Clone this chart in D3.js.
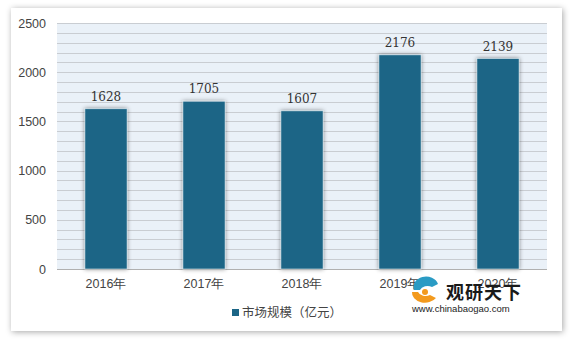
<!DOCTYPE html>
<html lang="zh">
<head>
<meta charset="UTF-8">
<script src="https://d3js.org/d3.v7.min.js"></script>
<style>
  body { margin: 0; background: #fff; }
  svg { display: block; }
  .tick text { font-family: "Liberation Sans", Arial, sans-serif; }
</style>
</head>
<body>
<svg></svg>
<script>
const width = 574, height = 340;

// data
const years = ["2016年", "2017年", "2018年", "2019年", "2020年"];
const values = [1628, 1705, 1607, 2176, 2139];
const yTicks = [0, 500, 1000, 1500, 2000, 2500];
const seriesName = "市场规模（亿元）";

const margin = { left: 57, right: 27, top: 23, bottom: 71 };
const plotW = width - margin.left - margin.right;
const plotH = height - margin.top - margin.bottom;

const svg = d3.select("svg").attr("width", width).attr("height", height);

const defs = svg.append("defs");
const cardShadow = defs.append("filter").attr("id", "cardShadow")
  .attr("x", "-5%").attr("y", "-5%").attr("width", "110%").attr("height", "110%");
cardShadow.append("feDropShadow").attr("dx", 1).attr("dy", 1).attr("stdDeviation", 3)
  .attr("flood-color", "#000").attr("flood-opacity", 0.35);
const barShadow = defs.append("filter").attr("id", "barShadow")
  .attr("x", "-30%").attr("y", "-10%").attr("width", "160%").attr("height", "120%");
barShadow.append("feDropShadow").attr("dx", 0).attr("dy", 0).attr("stdDeviation", 2)
  .attr("flood-color", "#000").attr("flood-opacity", 0.45);

// card
svg.append("rect")
  .attr("x", 11).attr("y", 8).attr("width", 551).attr("height", 323)
  .attr("fill", "#fff").attr("filter", "url(#cardShadow)");

const g = svg.append("g").attr("transform", `translate(${margin.left},${margin.top})`);

const x = d3.scaleBand().domain(years).range([0, plotW]).paddingInner(0.57).paddingOuter(0.285);
const y = d3.scaleLinear().domain([0, 2500]).range([plotH, 0]);

// plot background
g.append("rect").attr("width", plotW).attr("height", plotH).attr("fill", "#eaf1f8");

// grid lines every 100
g.append("g").selectAll("line")
  .data(d3.range(0, 2501, 100))
  .join("line")
  .attr("x1", 0).attr("x2", plotW)
  .attr("y1", d => Math.round(y(d)) + 0.5).attr("y2", d => Math.round(y(d)) + 0.5)
  .attr("stroke", d => d === 0 ? "#b0b0b0" : "#c9cdd2").attr("stroke-width", 1);

// bars
g.append("g").selectAll("rect")
  .data(values)
  .join("rect")
  .attr("x", (d, i) => x(years[i]))
  .attr("y", d => y(d))
  .attr("width", x.bandwidth())
  .attr("height", d => plotH - y(d))
  .attr("fill", "#1b6586")
  .attr("stroke", "#dfe9ef").attr("stroke-width", 0.6)
  .attr("filter", "url(#barShadow)");

// value labels
g.append("g").selectAll("text")
  .data(values)
  .join("text")
  .attr("x", (d, i) => x(years[i]) + x.bandwidth() / 2)
  .attr("y", d => y(d) - 8)
  .attr("text-anchor", "middle")
  .attr("font-family", "'DejaVu Serif', 'Liberation Serif', serif")
  .attr("font-size", 12)
  .attr("fill", "#333")
  .text(d => d);

// y axis
const yAxis = g.append("g")
  .call(d3.axisLeft(y).tickValues(yTicks).tickFormat(d3.format("d")).tickSize(0).tickPadding(11));
yAxis.select(".domain").remove();
yAxis.selectAll("text").attr("font-size", 12.5).attr("fill", "#444");

// x axis
const xAxis = g.append("g").attr("transform", `translate(0,${plotH})`)
  .call(d3.axisBottom(x).tickSize(0).tickPadding(10));
xAxis.select(".domain").remove();
xAxis.selectAll("text").attr("font-size", 12.5).attr("fill", "#444")
  .attr("font-family", "'Liberation Sans', 'Noto Sans CJK SC', sans-serif");

// legend
const lg = svg.append("g").attr("transform", "translate(232,313)");
lg.append("rect").attr("x", 0).attr("y", -4).attr("width", 7).attr("height", 7).attr("fill", "#1b6586");
lg.append("text").attr("x", 10).attr("y", 4)
  .attr("font-family", "'Noto Sans CJK SC', sans-serif").attr("font-size", 12.5).attr("fill", "#444")
  .text(seriesName);

// watermark
const wm = svg.append("g").attr("transform", "translate(412,278)");
wm.append("path").attr("d", "M2,12 A12,10 0 0 1 26,6 L20,9 A8,6 0 0 0 8,12 Z").attr("fill", "#2a9bc4");
wm.append("path").attr("d", "M0,14 A13,10 0 0 0 24,20 L18,17 A8,6 0 0 1 6,14 Z").attr("fill", "#f39a1e");
wm.append("circle").attr("cx", 13).attr("cy", 14).attr("r", 3).attr("fill", "#f39a1e");
wm.append("text").attr("x", 34).attr("y", 21)
  .attr("font-family", "'Noto Sans CJK SC', sans-serif").attr("font-weight", "bold")
  .attr("font-size", 18).attr("fill", "#1a1a1a").attr("letter-spacing", 1).text("观研天下");
wm.append("text").attr("x", 0).attr("y", 34)
  .attr("font-family", "'Liberation Sans', sans-serif").attr("font-size", 9.5)
  .attr("fill", "#222").text("www.chinabaogao.com");
</script>
</body>
</html>
